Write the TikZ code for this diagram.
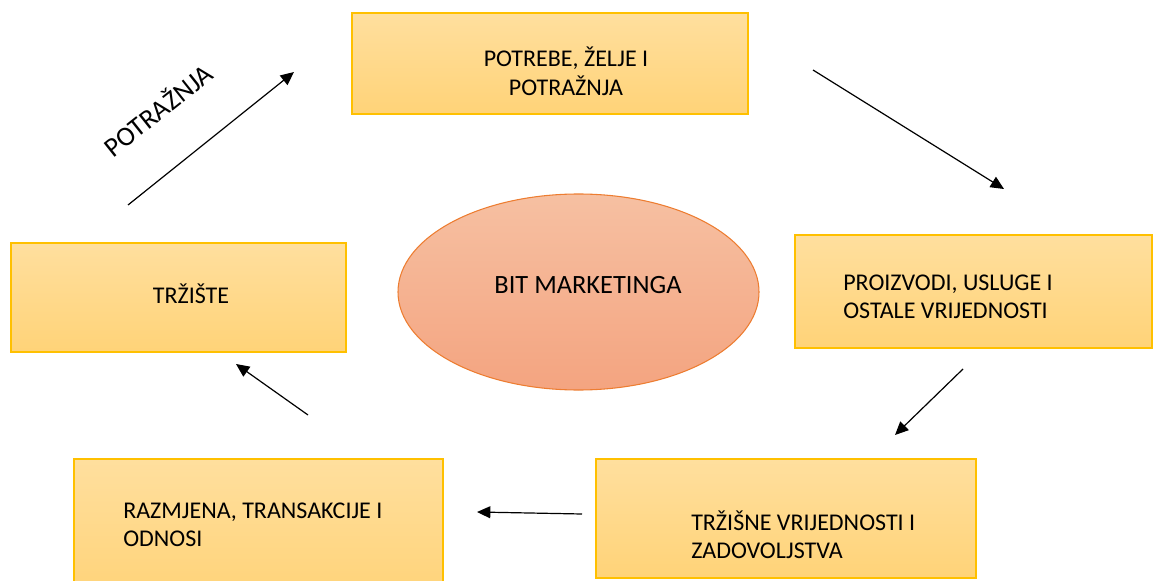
\documentclass[tikz,border=0pt]{standalone}
\usepackage{fontspec}
\setmainfont{Carlito}
\usetikzlibrary{arrows.meta,shapes.geometric}

\definecolor{boxtop}{RGB}{255,223,158}
\definecolor{boxbot}{RGB}{255,211,120}
\definecolor{boxline}{RGB}{255,192,0}
\definecolor{elltop}{RGB}{246,192,162}
\definecolor{ellbot}{RGB}{244,164,128}
\definecolor{ellline}{RGB}{237,125,49}

% two stacked lines, baseline on the first one
\newcommand{\leftpair}[2]{\begin{tabular}[t]{@{}l@{}}#1\\#2\end{tabular}}
\newcommand{\centerpair}[2]{\begin{tabular}[t]{@{}c@{}}#1\\#2\end{tabular}}

\tikzset{
  card/.style={draw=boxline, line width=0.9pt, top color=boxtop, bottom color=boxbot},
  core/.style={ellipse, draw=ellline, line width=0.8pt, top color=elltop, bottom color=ellbot, inner sep=0pt},
  words/.style={inner sep=0pt, font=\fontsize{18}{21.5}\selectfont, text=black},
  bigwords/.style={inner sep=0pt, font=\fontsize{19.8}{24}\selectfont, text=black},
  slantwords/.style={inner sep=0pt, font=\fontsize{20.5}{24}\selectfont, text=black},
  flow/.style={line width=0.9pt, -{Triangle[length=10pt,width=9pt]}}
}

\begin{document}
\begin{tikzpicture}[x=0.75pt, y=-0.75pt]
  \useasboundingbox (0,0) rectangle (1153,581);
  \clip (0,0) rectangle (1153,581);

  % boxes of the cycle
  \path[card] (352,13) rectangle (748,114);
  \path[card] (795,235) rectangle (1152,348);
  \path[card] (596,459) rectangle (976,578);
  \path[card] (74,459) rectangle (443,600);
  \path[card] (11,243) rectangle (346,352);

  % centre
  \node[core, minimum width=361*0.75pt, minimum height=196*0.75pt] (bit) at (578.5,292) {};
  \node[bigwords, anchor=base] (bittext) at (588,293) {BIT MARKETINGA};

  % box texts
  \node[words, anchor=base] (potrebe) at (566,67) {\centerpair{POTREBE, ŽELJE I}{POTRAŽNJA}};
  \node[words, anchor=base west] (proizvodi) at (843,290) {\leftpair{PROIZVODI, USLUGE I}{OSTALE VRIJEDNOSTI}};
  \node[words, anchor=base west] (trzisne) at (691,530) {\leftpair{TRŽIŠNE VRIJEDNOSTI I}{ZADOVOLJSTVA}};
  \node[words, anchor=base west] (razmjena) at (123,518) {\leftpair{RAZMJENA, TRANSAKCIJE I}{ODNOSI}};
  \node[words, anchor=base] (trziste) at (191,303) {TRŽIŠTE};

  % label on the rising arrow
  \node[slantwords, anchor=base, rotate=38.5] (potraznja) at (164,118) {POTRAŽNJA};

  % arrow ends
  \coordinate (a1s) at (128,205);  \coordinate (a1e) at (294,72);
  \coordinate (a2s) at (813,70);   \coordinate (a2e) at (1004,189);
  \coordinate (a3s) at (963,369);  \coordinate (a3e) at (895,435);
  \coordinate (a4s) at (582,514);  \coordinate (a4e) at (477,512);
  \coordinate (a5s) at (308,415);  \coordinate (a5e) at (236,364);

  \draw[flow] (a1s) -- (a1e);
  \draw[flow] (a2s) -- (a2e);
  \draw[flow] (a3s) -- (a3e);
  \draw[flow] (a4s) -- (a4e);
  \draw[flow] (a5s) -- (a5e);
\end{tikzpicture}
\end{document}
